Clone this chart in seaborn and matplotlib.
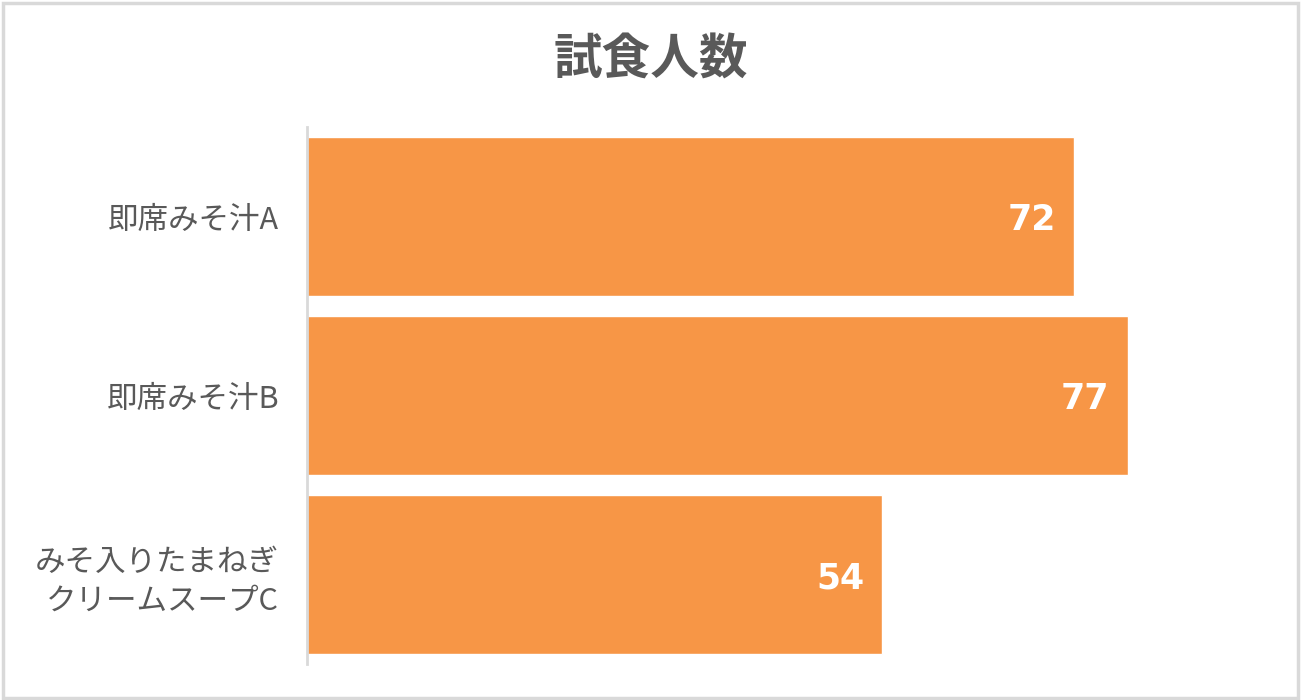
import matplotlib
matplotlib.use("Agg")
import matplotlib.pyplot as plt
import seaborn as sns
import pandas as pd
from matplotlib.patches import Rectangle

categories = ["即席みそ汁A", "即席みそ汁B", "みそ入りたまねぎ\nクリームスープC"]
counts = [72, 77, 54]
title = "試食人数"

BAR_COLOR = "#F79646"
TEXT_COLOR = "#595959"

sns.set_theme(style="white")
plt.rcParams["font.family"] = ["Noto Sans CJK JP", "DejaVu Sans"]

df = pd.DataFrame({"item": categories, "count": counts})

fig = plt.figure(figsize=(13.02, 7.0), dpi=100)
ax = fig.add_axes([0.2358, 0.0514, 0.7366, 0.767])

sns.barplot(data=df, y="item", x="count", orient="h", color=BAR_COLOR,
            saturation=1, width=0.89, ax=ax)

ax.set_xlim(0, 90)
ax.set_xticks([])
ax.set_xlabel("")
ax.set_ylabel("")
ax.tick_params(axis="y", length=0, pad=20, labelsize=22, labelcolor=TEXT_COLOR)
for lbl in ax.get_yticklabels():
    lbl.set_linespacing(1.3)

for side in ["top", "right", "bottom"]:
    ax.spines[side].set_visible(False)
ax.spines["left"].set_color("#D9D9D9")
ax.spines["left"].set_linewidth(2)

for container in ax.containers:
    ax.bar_label(container, labels=[str(v) for v in counts], padding=-13,
                 color="white", fontsize=25, fontweight="bold",
                 family="DejaVu Sans", label_type="edge")
for t in ax.texts:
    t.set_horizontalalignment("right")
    t.set_verticalalignment("center_baseline")

fig.text(0.5, 0.914, title, ha="center", va="center", fontsize=35,
         fontweight="bold", color=TEXT_COLOR)

fig.patches.append(Rectangle((0.002, 0.003), 0.995, 0.993, transform=fig.transFigure,
                             fill=False, edgecolor="#D9D9D9", linewidth=2.5))

fig.savefig("out.png", dpi=100, facecolor="white")
